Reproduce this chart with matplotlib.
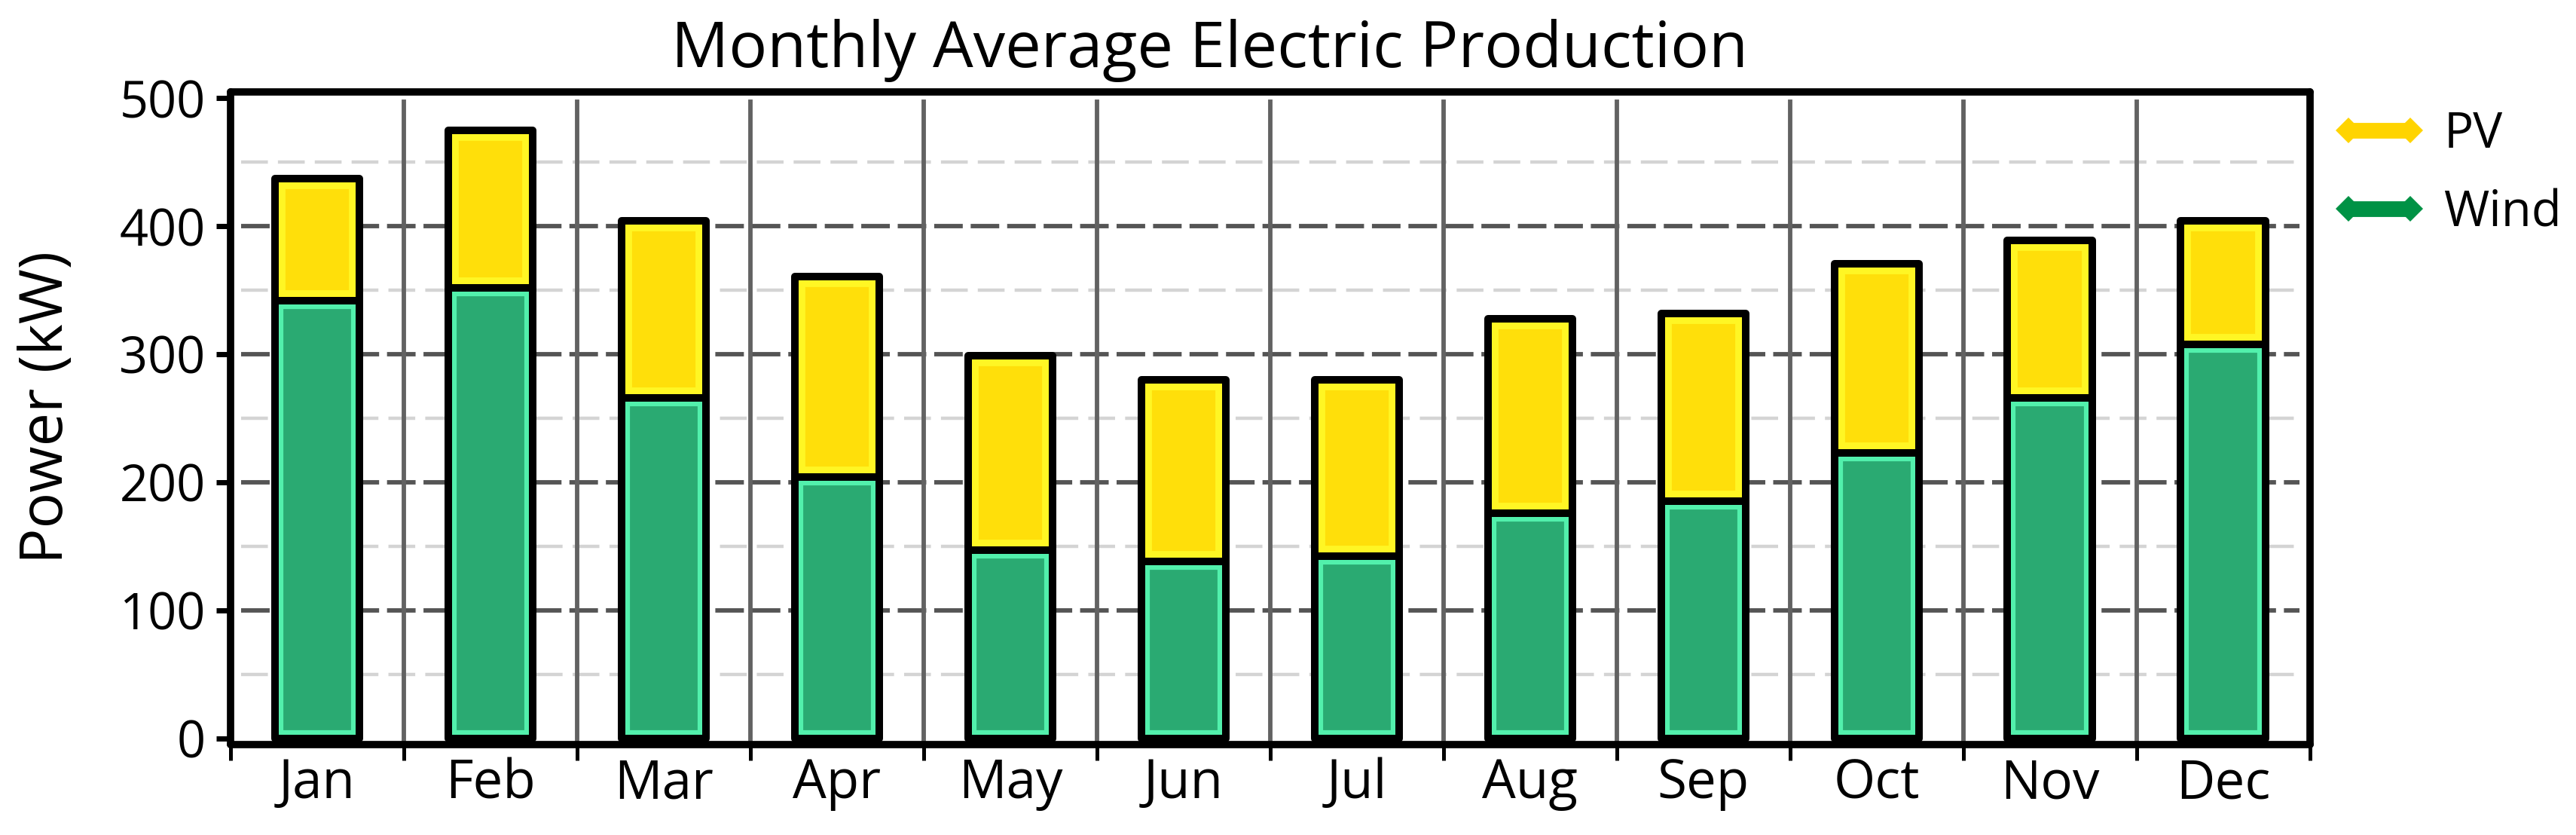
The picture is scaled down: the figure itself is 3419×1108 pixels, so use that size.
import numpy as np
import matplotlib
matplotlib.use("Agg")
import matplotlib.pyplot as plt
from matplotlib.lines import Line2D

plt.rcParams['font.family'] = ['Open Sans', 'DejaVu Sans']

# valeurs (kW)
months = ['Jan', 'Feb', 'Mar', 'Apr', 'May', 'Jun', 'Jul', 'Aug', 'Sep', 'Oct', 'Nov', 'Dec']
wind = [342, 352, 266, 204, 147, 138, 142, 176, 185, 223, 266, 308]
pv = [95, 123, 138, 157, 152, 142, 138, 152, 147, 148, 123, 96]
series_labels = ['PV', 'Wind']
y_ticks = [0, 100, 200, 300, 400, 500]

title = 'Monthly Average Electric Production'
y_label = 'Power (kW)'

fig = plt.figure(figsize=(34.19, 11.08), dpi=100)
ax = fig.add_axes([0.0895, 0.1083, 0.8072, 0.7816])

x = np.arange(len(months))
bar_w = 0.49

# grille
for y in np.arange(50, 500, 100):
    ax.axhline(y, xmin=0.005, xmax=0.995, color='#d4d4d4', lw=3.2,
               linestyle=(0, (8, 3)), zorder=1)
for y in y_ticks[1:-1]:
    ax.axhline(y, xmin=0.005, xmax=0.995, color='#555555', lw=4.2,
               linestyle=(0, (6.5, 1.8)), zorder=1)
for xb in x[:-1] + 0.5:
    ax.axvline(xb, ymin=0, ymax=0.985, color='#626262', lw=4.2, zorder=1)


def segment(vals, bottom, fill, light, light_lw):
    inner = ax.bar(x, vals, bottom=bottom, width=bar_w, color=fill,
                   edgecolor=light, linewidth=light_lw, zorder=3)
    for p in inner:
        p.set_clip_path(p)
    outer = ax.bar(x, vals, bottom=bottom, width=bar_w, facecolor='none',
                   edgecolor='black', linewidth=7.2, zorder=4)
    for p in outer:
        p.set_joinstyle('round')


segment(wind, 0, '#2aaa72', '#52f0ac', 16)
segment(pv, wind, '#ffdf0a', '#fff624', 20)

ax.set_xlim(-0.5, 11.5)
ax.set_ylim(-5, 505)

ax.set_yticks(y_ticks)
ax.tick_params(axis='y', direction='out', length=14, width=5, pad=10,
               labelsize=48, color='black')

ax.set_xticks(np.arange(-0.5, 12, 1))
ax.set_xticklabels([])
ax.set_xticks(x, minor=True)
ax.set_xticklabels(months, minor=True)
ax.tick_params(axis='x', which='major', direction='out', length=15, width=3.6)
ax.tick_params(axis='x', which='minor', length=0, pad=12, labelsize=51)

for s in ax.spines.values():
    s.set_linewidth(7)
    s.set_color('black')
    s.set_capstyle('round')

fig.text(0.4697, 0.92, title, ha='center', va='baseline', fontsize=61)
fig.text(0.0184, 0.5126, y_label, rotation=90, ha='center', va='center', fontsize=57)

handles = [
    Line2D([], [], color='#ffd400', lw=15, marker='D', markersize=17,
           markeredgewidth=0, solid_capstyle='butt'),
    Line2D([], [], color='#009245', lw=15, marker='D', markersize=17,
           markeredgewidth=0, solid_capstyle='butt'),
]
ax.legend(handles, series_labels, loc='upper left', bbox_to_anchor=(0.906, 0.868),
          bbox_transform=fig.transFigure, frameon=False, fontsize=47,
          handlelength=1.85, handletextpad=0.38, labelspacing=0.58, numpoints=2,
          borderaxespad=0, borderpad=0)

fig.savefig('out.png', dpi=100)
